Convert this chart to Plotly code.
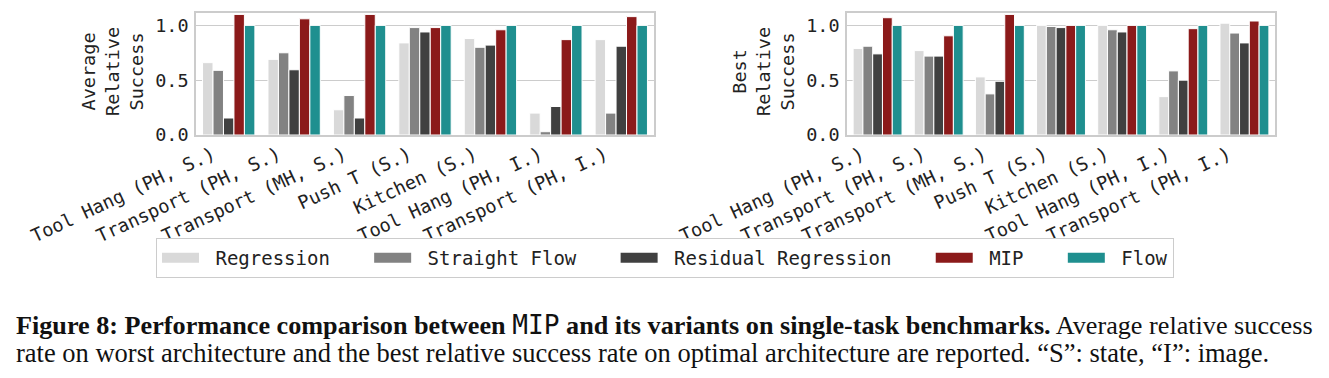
import plotly.graph_objects as go

categories = ["Tool Hang (PH, S.)", "Transport (PH, S.)", "Transport (MH, S.)",
              "Push T (S.)", "Kitchen (S.)", "Tool Hang (PH, I.)", "Transport (PH, I.)"]
series_names = ["Regression", "Straight Flow", "Residual Regression", "MIP", "Flow"]
series_colors = ["#d9d9d9", "#828282", "#404040", "#8b1a1a", "#1f8f8f"]

avg_regression = [0.66, 0.69, 0.23, 0.84, 0.88, 0.20, 0.87]
avg_straight = [0.59, 0.75, 0.36, 0.98, 0.80, 0.03, 0.20]
avg_residual = [0.155, 0.595, 0.155, 0.94, 0.82, 0.26, 0.81]
avg_mip = [1.10, 1.06, 1.10, 0.98, 0.96, 0.87, 1.08]
avg_flow = [1.0, 1.0, 1.0, 1.0, 1.0, 1.0, 1.0]

best_regression = [0.79, 0.77, 0.53, 1.0, 1.0, 0.35, 1.02]
best_straight = [0.81, 0.72, 0.375, 0.99, 0.96, 0.585, 0.93]
best_residual = [0.74, 0.72, 0.49, 0.98, 0.94, 0.50, 0.84]
best_mip = [1.07, 0.905, 1.10, 1.0, 1.0, 0.97, 1.04]
best_flow = [1.0, 1.0, 1.0, 1.0, 1.0, 1.0, 1.0]

avg_series = [avg_regression, avg_straight, avg_residual, avg_mip, avg_flow]
best_series = [best_regression, best_straight, best_residual, best_mip, best_flow]

W, H = 1329, 378
OFF = 8  # page body margin
MONO = "DejaVu Sans Mono"
TXT = "#222222"

def px_x(p):
    return (p - OFF) / W

def px_y(p):
    return (H - (p - OFF)) / H

fig = go.Figure()

for vals, name, col in zip(avg_series, series_names, series_colors):
    fig.add_trace(go.Bar(x=categories, y=vals, name=name, marker_color=col,
                         marker_line_color="white", marker_line_width=1,
                         showlegend=False, xaxis="x", yaxis="y"))
for vals, name, col in zip(best_series, series_names, series_colors):
    fig.add_trace(go.Bar(x=categories, y=vals, name=name, marker_color=col,
                         marker_line_color="white", marker_line_width=1,
                         showlegend=False, xaxis="x2", yaxis="y2"))

# legend entries
for i, (name, col) in enumerate(zip(series_names, series_colors)):
    label = "\u00a0" + name
    if i < len(series_names) - 1:
        label += "\u00a0\u00a0\u00a0"
    fig.add_trace(go.Scatter(x=[None], y=[None], mode="lines", name=label,
                             line=dict(color=col, width=14), showlegend=True,
                             xaxis="x", yaxis="y"))

axis_common = dict(showline=True, linecolor="#cccccc", linewidth=1.5, mirror=True,
                   ticks="", automargin=False,
                   tickfont=dict(family=MONO, size=18.5, color=TXT))
xcommon = dict(axis_common, showgrid=False, tickangle=-25, type="category",
               ticklabelshift=-16)
ycommon = dict(axis_common, showgrid=True, gridcolor="#cccccc", gridwidth=1.2,
               range=[0, 1.113], tickvals=[0, 0.5, 1.0], tickformat=".1f",
               zeroline=False, ticklabelstandoff=2)

ydom = [px_y(135), px_y(13)]
fig.update_layout(
    width=W, height=H,
    margin=dict(l=0, r=0, t=0, b=0, autoexpand=False),
    paper_bgcolor="white", plot_bgcolor="white",
    barmode="group", bargap=0.2, bargroupgap=0,
    xaxis=dict(xcommon, domain=[px_x(196), px_x(654)], anchor="y"),
    yaxis=dict(ycommon, domain=ydom, anchor="x"),
    xaxis2=dict(xcommon, domain=[px_x(847), px_x(1275)], anchor="y2"),
    yaxis2=dict(ycommon, domain=ydom, anchor="x2"),
    legend=dict(orientation="h", x=px_x(665), xanchor="center", y=px_y(238), yanchor="top",
                bordercolor="#cccccc", borderwidth=1, itemwidth=37,
                font=dict(family=MONO, size=19, color=TXT), bgcolor="white"),
    showlegend=True,
)

# y-axis titles
fig.add_annotation(x=px_x(112), y=px_y(72), xref="paper", yref="paper",
                   text="Average<br>Relative<br>Success", textangle=-90, showarrow=False,
                   font=dict(family=MONO, size=18.5, color=TXT), xanchor="center", yanchor="middle")
fig.add_annotation(x=px_x(763), y=px_y(72), xref="paper", yref="paper",
                   text="Best<br>Relative<br>Success", textangle=-90, showarrow=False,
                   font=dict(family=MONO, size=18.5, color=TXT), xanchor="center", yanchor="middle")

# caption
SERIF = "Liberation Serif"
line1 = ("<b>Figure 8: Performance comparison between </b>"
         "<span style='font-family:DejaVu Sans Mono'>MIP</span>"
         "<b> and its variants on single-task benchmarks.</b> Average relative success")
line2 = ("rate on worst architecture and the best relative success rate on optimal "
         "architecture are reported. \u201cS\u201d: state, \u201cI\u201d: image.")
fig.add_annotation(x=px_x(14), y=px_y(325), xref="paper", yref="paper", text=line1,
                   showarrow=False, xanchor="left", yanchor="middle",
                   font=dict(family=SERIF, size=26.2, color="#111111"))
fig.add_annotation(x=px_x(14), y=px_y(353), xref="paper", yref="paper", text=line2,
                   showarrow=False, xanchor="left", yanchor="middle",
                   font=dict(family=SERIF, size=26.5, color="#111111"))

fig.write_html("out.html")
